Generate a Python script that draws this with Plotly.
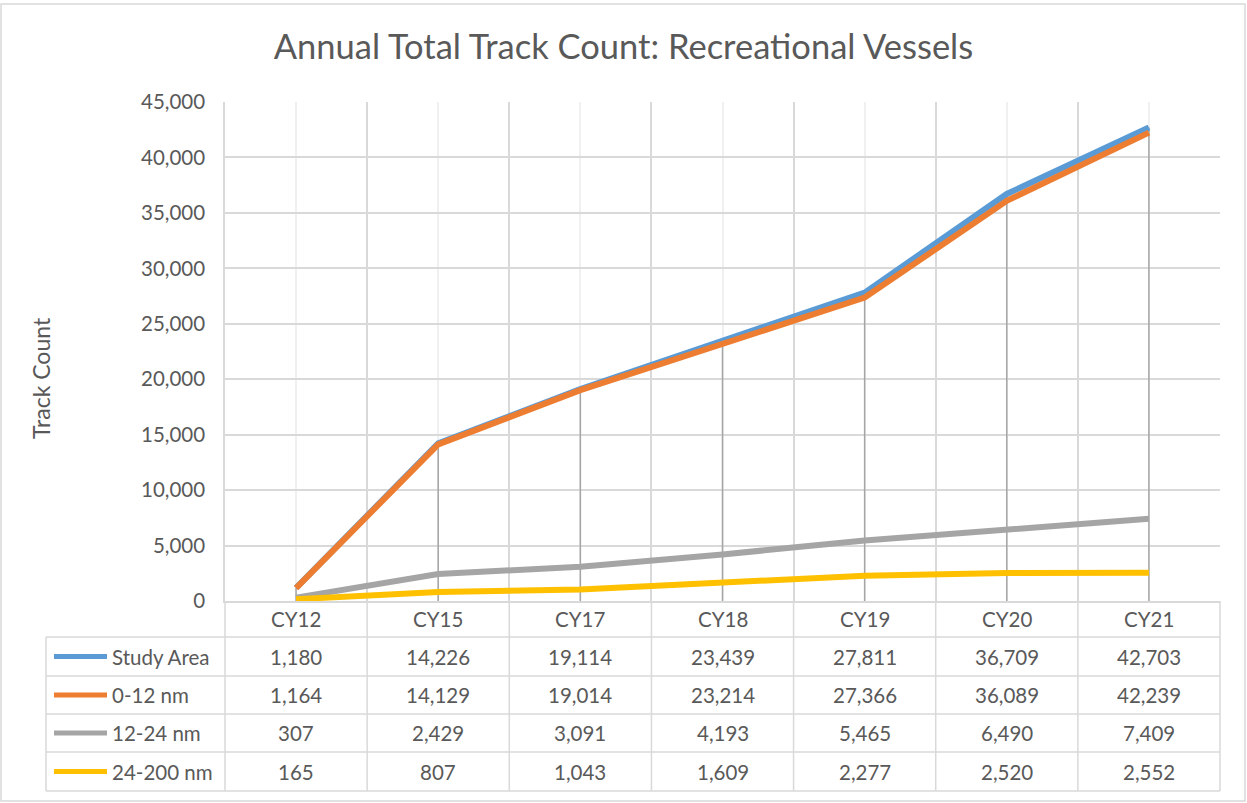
import plotly.graph_objects as go

years = ["CY12", "CY15", "CY17", "CY18", "CY19", "CY20", "CY21"]
study_area = [1180, 14226, 19114, 23439, 27811, 36709, 42703]
nm_0_12 = [1164, 14129, 19014, 23214, 27366, 36089, 42239]
nm_12_24 = [307, 2429, 3091, 4193, 5465, 6490, 7409]
nm_24_200 = [165, 807, 1043, 1609, 2277, 2520, 2552]

series_names = ["Study Area", "0-12 nm", "12-24 nm", "24-200 nm"]
series_vals = [study_area, nm_0_12, nm_12_24, nm_24_200]
colors = ["#5b9bd5", "#ed7d31", "#a5a5a5", "#ffc000"]

W, H = 1247, 803
L, R, T, B = 225, 27, 102, 202
pw, ph = W - L - R, H - T - B
FONT = "Lato"
TXT = "#595959"
GRID = "#d9d9d9"
FS = 20.5


def px(x):
    return (x - L) / pw


def py(y):
    return (H - B - y) / ph


n = len(years)
xs = [i + 0.5 for i in range(n)]

fig = go.Figure()

# drop lines
dx, dy = [], []
for i in range(n):
    top = max(s[i] for s in series_vals)
    dx += [xs[i], xs[i], None]
    dy += [0, top, None]
fig.add_trace(go.Scatter(x=dx, y=dy, mode="lines", line=dict(color="#a5a5a5", width=1.5),
                         hoverinfo="skip", showlegend=False))

for name, vals, c in zip(series_names, series_vals, colors):
    fig.add_trace(go.Scatter(x=xs, y=vals, name=name, mode="lines",
                             line=dict(color=c, width=6), showlegend=False))

shapes = []
# outer border
shapes.append(dict(type="rect", xref="paper", yref="paper", x0=px(1), x1=px(W - 2),
                   y0=py(4), y1=py(H - 2), line=dict(color=GRID, width=1.5)))

# data table
row_edges = [601, 637, 676, 714, 752, 791]
left_x = 46
for yy in row_edges[1:]:
    shapes.append(dict(type="line", xref="paper", yref="paper", x0=px(left_x), x1=1,
                       y0=py(yy), y1=py(yy), line=dict(color=GRID, width=1.5)))
for i in range(n + 1):
    shapes.append(dict(type="line", xref="paper", yref="paper", x0=i / n, x1=i / n,
                       y0=py(row_edges[0]), y1=py(row_edges[-1]), line=dict(color=GRID, width=1.5)))
shapes.append(dict(type="line", xref="paper", yref="paper", x0=px(left_x), x1=px(left_x),
                   y0=py(row_edges[1]), y1=py(row_edges[-1]), line=dict(color=GRID, width=1.5)))

annotations = []
for i, yr in enumerate(years):
    annotations.append(dict(x=(i + 0.5) / n, y=py((row_edges[0] + row_edges[1]) / 2), xref="paper",
                            yref="paper", text=yr, showarrow=False, xanchor="center", yanchor="middle",
                            font=dict(size=FS, color=TXT)))
for r, (name, vals, c) in enumerate(zip(series_names, series_vals, colors)):
    yc = py((row_edges[r + 1] + row_edges[r + 2]) / 2)
    shapes.append(dict(type="line", xref="paper", yref="paper", x0=px(54), x1=px(107),
                       y0=yc, y1=yc, line=dict(color=c, width=5)))
    annotations.append(dict(x=px(110), y=yc, xref="paper", yref="paper", text=name,
                            showarrow=False, xanchor="left", yanchor="middle",
                            font=dict(size=FS, color=TXT)))
    for i, v in enumerate(vals):
        annotations.append(dict(x=(i + 0.5) / n, y=yc, xref="paper", yref="paper",
                                text=f"{v:,}", showarrow=False, xanchor="center", yanchor="middle",
                                font=dict(size=FS, color=TXT)))

annotations.append(dict(x=px(41), y=py(378), xref="paper", yref="paper", text="Track Count",
                        textangle=-90, showarrow=False, xanchor="center", yanchor="middle",
                        font=dict(size=23, color=TXT)))

fig.update_layout(
    width=W, height=H,
    margin=dict(l=L, r=R, t=T, b=B),
    paper_bgcolor="white", plot_bgcolor="white",
    font=dict(family=FONT, color=TXT),
    title=dict(text="Annual Total Track Count: Recreational Vessels", x=0.5, xanchor="center",
               y=1 - 47 / H, yanchor="middle", font=dict(size=34.5, color=TXT, family=FONT)),
    shapes=shapes, annotations=annotations,
)
fig.update_xaxes(range=[0, n], dtick=1, tick0=0, showticklabels=False, showgrid=True,
                 gridcolor=GRID, gridwidth=1.5, zeroline=False, showline=True,
                 linecolor=GRID, linewidth=1.5,
                 minor=dict(dtick=1, tick0=0.5, showgrid=True, gridcolor="#f0f0f0", gridwidth=1.5))
fig.update_yaxes(range=[0, 45000], dtick=5000, tickformat=",", showgrid=True, gridcolor=GRID,
                 gridwidth=1.5, zeroline=False, showline=True, linecolor=GRID, linewidth=1.5,
                 tickfont=dict(size=FS, color=TXT), ticklabelstandoff=14)

fig.write_html("out.html", config={"displayModeBar": False},
               post_script="document.body.style.margin='0';")
